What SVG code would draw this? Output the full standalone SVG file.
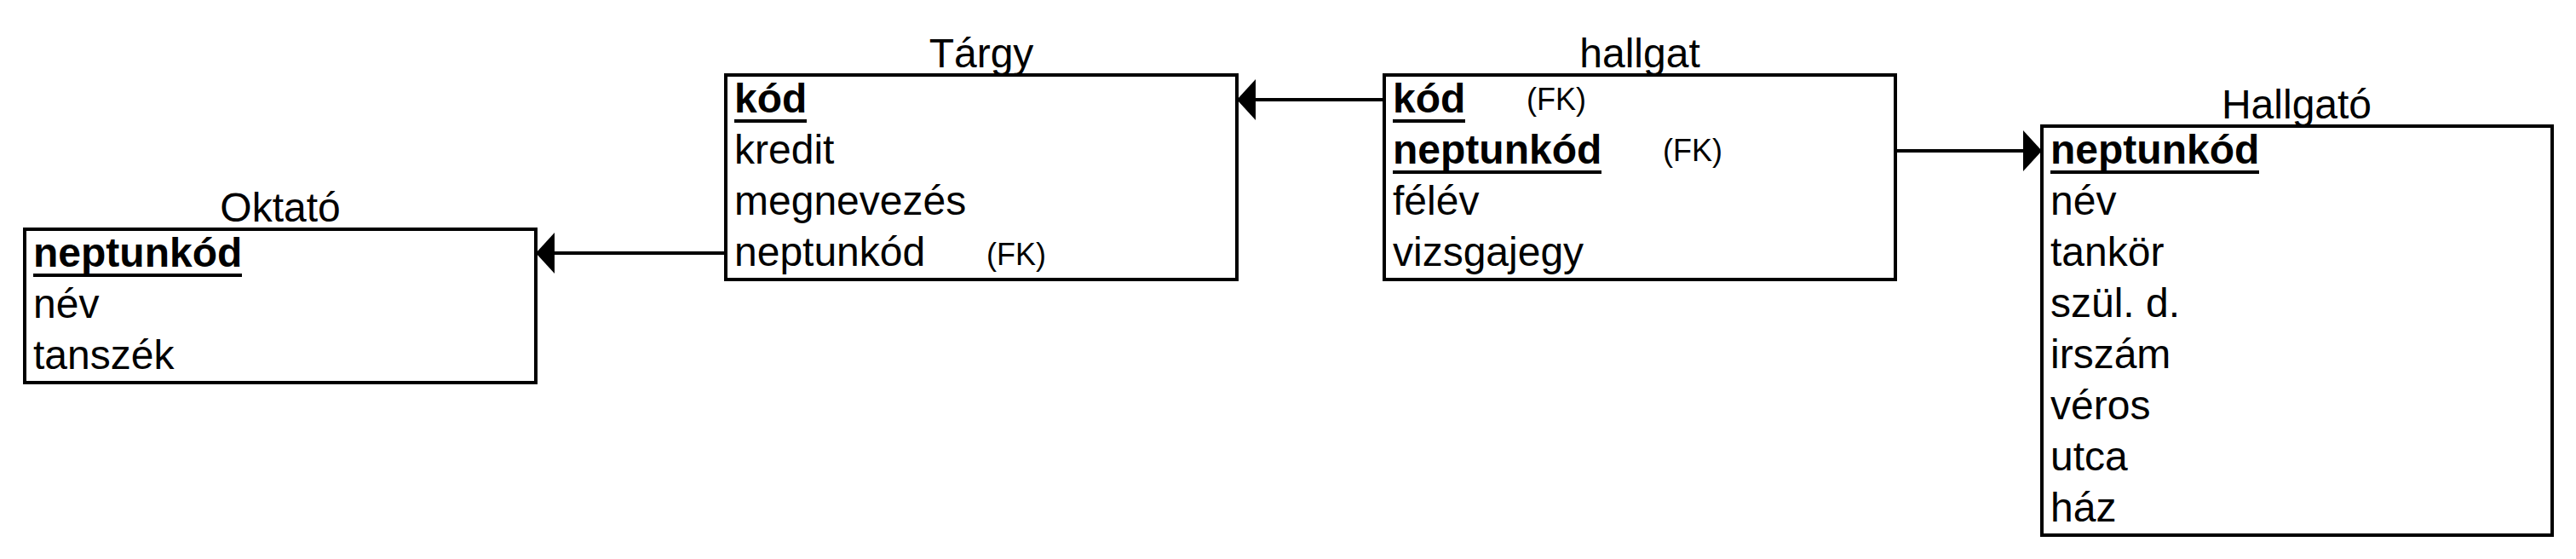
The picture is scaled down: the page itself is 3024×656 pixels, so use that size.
<svg xmlns="http://www.w3.org/2000/svg" width="3024" height="656" viewBox="0 0 3024 656">
  <style>
    .box { fill: #ffffff; stroke: #000000; stroke-width: 4; }
    .title { font-family: "Liberation Sans", Arial, sans-serif; font-size: 48px; fill: #000; text-anchor: middle; }
    .attr { font-family: "Liberation Sans", Arial, sans-serif; font-size: 48px; fill: #000; }
    .key { font-family: "Liberation Sans", Arial, sans-serif; font-size: 48px; font-weight: bold; fill: #000; }
    .fk { font-family: "Liberation Sans", Arial, sans-serif; font-size: 36px; fill: #000; }
    .ul { stroke: #000; stroke-width: 4; }
    .conn { stroke: #000; stroke-width: 4; fill: none; marker-end: url(#arrow); }
  </style>
  <defs>
    <marker id="arrow" viewBox="0 0 22 48" refX="22" refY="24" markerWidth="22" markerHeight="48" markerUnits="userSpaceOnUse" orient="auto">
      <path d="M0,0 L22,24 L0,48 Z" fill="#000"/>
    </marker>
  </defs>
  <rect width="3024" height="656" fill="#ffffff"/>

  <g id="oktato">
    <text class="title" x="329" y="260">Oktató</text>
    <rect class="box" x="29" y="269" width="600" height="180"/>
    <text class="key" x="39" y="313">neptunkód</text>
    <line class="ul" x1="39" y1="323" x2="284" y2="323"/>
    <text class="attr" x="39" y="373">név</text>
    <text class="attr" x="39" y="433">tanszék</text>
  </g>

  <g id="targy">
    <text class="title" x="1152" y="79">Tárgy</text>
    <rect class="box" x="852" y="88" width="600" height="240"/>
    <text class="key" x="862" y="132">kód</text>
    <line class="ul" x1="862" y1="142" x2="947" y2="142"/>
    <text class="attr" x="862" y="192">kredit</text>
    <text class="attr" x="862" y="252">megnevezés</text>
    <text class="attr" x="862" y="312">neptunkód</text>
    <text class="fk" x="1158" y="311">(FK)</text>
  </g>

  <g id="hallgat">
    <text class="title" x="1925" y="79">hallgat</text>
    <rect class="box" x="1625" y="88" width="600" height="240"/>
    <text class="key" x="1635" y="132">kód</text>
    <line class="ul" x1="1635" y1="142" x2="1720" y2="142"/>
    <text class="fk" x="1792" y="129">(FK)</text>
    <text class="key" x="1635" y="192">neptunkód</text>
    <line class="ul" x1="1635" y1="202" x2="1880" y2="202"/>
    <text class="fk" x="1952" y="189">(FK)</text>
    <text class="attr" x="1635" y="252">félév</text>
    <text class="attr" x="1635" y="312">vizsgajegy</text>
  </g>

  <g id="hallgato">
    <text class="title" x="2696" y="139">Hallgató</text>
    <rect class="box" x="2397" y="148" width="599" height="480"/>
    <text class="key" x="2407" y="192">neptunkód</text>
    <line class="ul" x1="2407" y1="202" x2="2652" y2="202"/>
    <text class="attr" x="2407" y="252">név</text>
    <text class="attr" x="2407" y="312">tankör</text>
    <text class="attr" x="2407" y="372">szül. d.</text>
    <text class="attr" x="2407" y="432">irszám</text>
    <text class="attr" x="2407" y="492">véros</text>
    <text class="attr" x="2407" y="552">utca</text>
    <text class="attr" x="2407" y="612">ház</text>
  </g>

  <g id="connectors">
    <line class="conn" x1="852" y1="297" x2="629" y2="297"/>
    <line class="conn" x1="1625" y1="117" x2="1452" y2="117"/>
    <line class="conn" x1="2225" y1="177" x2="2397" y2="177"/>
  </g>
</svg>
